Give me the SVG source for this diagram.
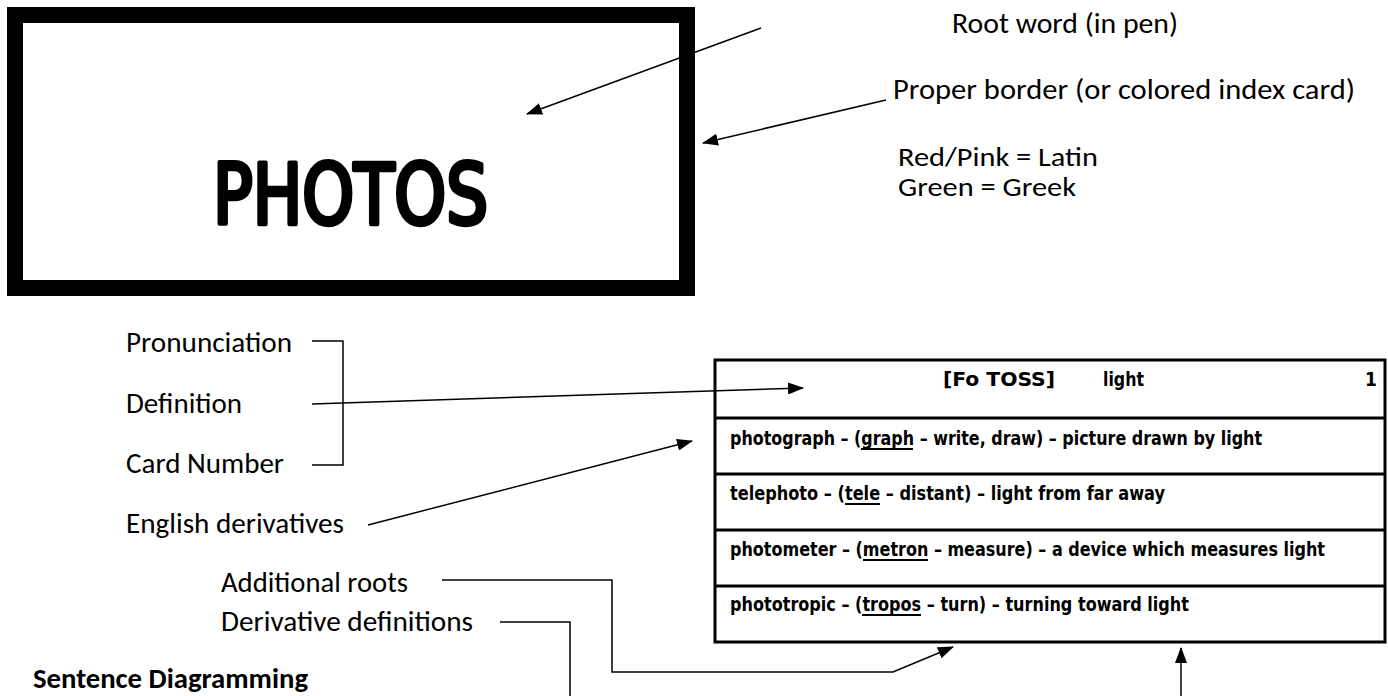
<svg xmlns="http://www.w3.org/2000/svg" width="1388" height="696" viewBox="0 0 1388 696">
<defs>
<style>
.lbl{font-family:Carlito,Lato,"Open Sans",sans-serif;font-size:28px;fill:#000}
.top{font-size:29px}
.sm{font-size:27px}
.bold{font-weight:bold}
.card{font-family:"DejaVu Sans Condensed","DejaVu Sans",sans-serif;font-stretch:condensed;font-weight:bold;font-size:19px;fill:#000}
.photos{font-family:"DejaVu Sans Condensed","DejaVu Sans",sans-serif;font-stretch:condensed;font-size:84px;fill:#000;stroke:#000;stroke-width:4.5;stroke-linejoin:round;stroke-linecap:round}
.conn{fill:none;stroke:#000;stroke-width:1.5}
.cardbox{fill:#fff;stroke:#000;stroke-width:3}
.rule{stroke:#000;stroke-width:3}
.ul{stroke:#000;stroke-width:2}
</style>
<marker id="ah" markerWidth="16" markerHeight="12" refX="15" refY="6" orient="auto" markerUnits="userSpaceOnUse"><path d="M0,0 L16,6 L0,12 z" fill="#000"/></marker>
</defs>
<rect width="1388" height="696" fill="#fff"/>

<g id="root-card">
<rect x="15" y="15" width="672" height="273" fill="#fff" stroke="#000" stroke-width="16"/>
<text class="photos" x="213" y="224" textLength="275" lengthAdjust="spacingAndGlyphs">PHOTOS</text>
</g>

<g id="label-root-word"><text class="lbl top" x="952" y="33" textLength="226" lengthAdjust="spacingAndGlyphs">Root word (in pen)</text></g>
<g id="label-border">
<text class="lbl top" x="893" y="99" textLength="462" lengthAdjust="spacingAndGlyphs">Proper border (or colored index card)</text>
<text class="lbl sm" x="898" y="166" textLength="200" lengthAdjust="spacingAndGlyphs">Red/Pink = Latin</text>
<text class="lbl sm" x="898" y="196" textLength="178" lengthAdjust="spacingAndGlyphs">Green = Greek</text>
</g>

<g id="label-pronunciation"><text class="lbl" x="126" y="352" textLength="166" lengthAdjust="spacingAndGlyphs">Pronunciation</text></g>
<g id="label-definition"><text class="lbl" x="126" y="413" textLength="116" lengthAdjust="spacingAndGlyphs">Definition</text></g>
<g id="label-card-number"><text class="lbl" x="126" y="473" textLength="158" lengthAdjust="spacingAndGlyphs">Card Number</text></g>
<g id="label-english"><text class="lbl" x="126" y="533" textLength="218" lengthAdjust="spacingAndGlyphs">English derivatives</text></g>
<g id="label-additional"><text class="lbl" x="221" y="592" textLength="187" lengthAdjust="spacingAndGlyphs">Additional roots</text></g>
<g id="label-derivative-def"><text class="lbl" x="221" y="631" textLength="252" lengthAdjust="spacingAndGlyphs">Derivative definitions</text></g>
<g id="heading"><text class="lbl bold" x="33" y="688" textLength="275" lengthAdjust="spacingAndGlyphs">Sentence Diagramming</text></g>

<g id="index-card">
<rect class="cardbox" x="715" y="360" width="670" height="282"/>
<line class="rule" x1="715" y1="418" x2="1385" y2="418"/>
<line class="rule" x1="715" y1="474" x2="1385" y2="474"/>
<line class="rule" x1="715" y1="530" x2="1385" y2="530"/>
<line class="rule" x1="715" y1="586" x2="1385" y2="586"/>
<text class="card" x="943" y="386" textLength="112" lengthAdjust="spacingAndGlyphs">[Fo TOSS]</text>
<text class="card" x="1103" y="386" textLength="41" lengthAdjust="spacingAndGlyphs">light</text>
<text class="card" x="1365" y="386">1</text>
<text class="card" x="730" y="445" textLength="532" lengthAdjust="spacingAndGlyphs">photograph – (graph – write, draw) – picture drawn by light</text>
<text class="card" x="730" y="500" textLength="435" lengthAdjust="spacingAndGlyphs">telephoto – (tele – distant) – light from far away</text>
<text class="card" x="730" y="556" textLength="595" lengthAdjust="spacingAndGlyphs">photometer – (metron – measure) – a device which measures light</text>
<text class="card" x="730" y="611" textLength="459" lengthAdjust="spacingAndGlyphs">phototropic – (tropos – turn) – turning toward light</text>
<line class="ul" x1="861" y1="449" x2="913" y2="449"/>
<line class="ul" x1="845" y1="504" x2="880" y2="504"/>
<line class="ul" x1="863" y1="560" x2="928" y2="560"/>
<line class="ul" x1="862" y1="615" x2="921" y2="615"/>
</g>

<g id="connectors">
<path class="conn" d="M761 28 L527 114" marker-end="url(#ah)"/>
<path class="conn" d="M886 100 L703 143" marker-end="url(#ah)"/>
<path class="conn" d="M312 341 H343 V465 H312"/>
<path class="conn" d="M312 404 L803 388" marker-end="url(#ah)"/>
<path class="conn" d="M368 525 L692 441" marker-end="url(#ah)"/>
<path class="conn" d="M442 580 H612 V672 H893 L953 647" marker-end="url(#ah)"/>
<path class="conn" d="M500 622 H570 V696"/>
<path class="conn" d="M1181 696 V648" marker-end="url(#ah)"/>
</g>
</svg>
